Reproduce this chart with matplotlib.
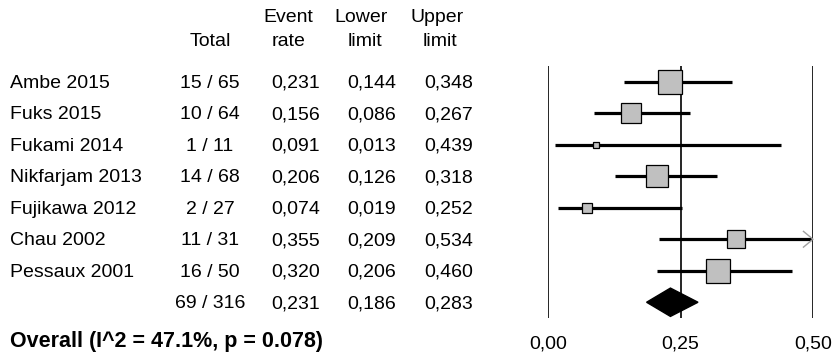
import matplotlib
matplotlib.use("Agg")
import matplotlib.pyplot as plt
from matplotlib.patches import Polygon
import matplotlib.transforms as mtransforms

plt.rcParams['font.family'] = ['Liberation Sans', 'DejaVu Sans']

# ---- data ----
studies = ["Ambe 2015", "Fuks 2015", "Fukami 2014", "Nikfarjam 2013",
           "Fujikawa 2012", "Chau 2002", "Pessaux 2001"]
events = [15, 10, 1, 14, 2, 11, 16]
totals = [65, 64, 11, 68, 27, 31, 50]
rates = [0.231, 0.156, 0.091, 0.206, 0.074, 0.355, 0.320]
lowers = [0.144, 0.086, 0.013, 0.126, 0.019, 0.209, 0.206]
uppers = [0.348, 0.267, 0.439, 0.318, 0.252, 0.534, 0.460]
weights = [19.0, 16.6, 4.0, 18.2, 7.9, 14.3, 19.0]
pooled_events, pooled_total = 69, 316
pooled_rate, pooled_lower, pooled_upper = 0.231, 0.186, 0.283
overall_label = "Overall (I^2 = 47.1%, p = 0.078)"
xticks = [0.0, 0.25, 0.5]
xticklabels = ["0,00", "0,25", "0,50"]

W, H = 834, 359
fig = plt.figure(figsize=(W / 100, H / 100), dpi=100)

# forest axes: x 548..813 px, y 66..318 px
ax_l, ax_r, ax_t, ax_b = 548, 813, 66, 318
ax = fig.add_axes([ax_l / W, 1 - ax_b / H, (ax_r - ax_l) / W, (ax_b - ax_t) / H])
xmin, xmax = 0.0, 0.5
ax.set_xlim(xmin, xmax)
n = len(studies)
ax.set_ylim(n + 0.5, -0.5)
ax.axis('off')

for xv in xticks:
    ax.axvline(xv, color='black', lw=1.2, zorder=1)

fs = 14
fs_bold = 15.5
max_w = max(weights)
for i in range(n):
    lo, hi = lowers[i], uppers[i]
    hi_c = min(hi, xmax)
    ax.plot([lo, hi_c], [i, i], color='black', lw=2.3, solid_capstyle='butt', zorder=2)
    if hi > xmax:
        ax.plot([xmax - 0.018, xmax, xmax - 0.018], [i - 0.25, i, i + 0.25],
                color='#a0a0a0', lw=1.0, zorder=2, clip_on=False)
    size_px = 24 * weights[i] / max_w
    ax.plot([rates[i]], [i], marker='s', markersize=size_px * 0.72,
            markerfacecolor='#c0c0c0', markeredgecolor='black',
            markeredgewidth=0.9, linestyle='none', zorder=3)

yd = n
h = 0.45
diamond = Polygon([(pooled_lower, yd), (pooled_rate, yd - h),
                   (pooled_upper, yd), (pooled_rate, yd + h)],
                  closed=True, facecolor='black', edgecolor='black', zorder=4)
ax.add_patch(diamond)

# tick labels
for xv, lab in zip(xticks, xticklabels):
    ax.text(xv, 1 - (344 - ax_t) / (ax_b - ax_t), lab,
            transform=mtransforms.blended_transform_factory(ax.transData, ax.transAxes),
            ha='center', va='center', fontsize=fs)

# table
tr = mtransforms.blended_transform_factory(fig.transFigure, ax.transData)
col_total, col_rate, col_low, col_up = 210, 296, 372, 449


def fx(px):
    return px / W


def fy(py):
    return 1 - py / H


for i in range(n):
    ax.text(fx(10), i + 0.05, studies[i], transform=tr, ha='left', va='center', fontsize=fs)
    ax.text(fx(col_total), i + 0.05, f"{events[i]} / {totals[i]}", transform=tr,
            ha='center', va='center', fontsize=fs)
    for c, v in zip((col_rate, col_low, col_up), (rates[i], lowers[i], uppers[i])):
        ax.text(fx(c), i + 0.05, f"{v:.3f}".replace('.', ','), transform=tr,
                ha='center', va='center', fontsize=fs)

ax.text(fx(col_total), n + 0.05, f"{pooled_events} / {pooled_total}", transform=tr,
        ha='center', va='center', fontsize=fs)
for c, v in zip((col_rate, col_low, col_up), (pooled_rate, pooled_lower, pooled_upper)):
    ax.text(fx(c), n + 0.05, f"{v:.3f}".replace('.', ','), transform=tr,
            ha='center', va='center', fontsize=fs)

fig.text(fx(10), fy(341), overall_label, ha='left', va='center', fontsize=fs_bold,
         fontweight='bold')

# headers
fig.text(fx(210), fy(42), "Total", ha='center', va='center', fontsize=fs)
fig.text(fx(288), fy(17), "Event", ha='center', va='center', fontsize=fs)
fig.text(fx(289), fy(42), "rate", ha='center', va='center', fontsize=fs)
fig.text(fx(361), fy(17), "Lower", ha='center', va='center', fontsize=fs)
fig.text(fx(365), fy(42), "limit", ha='center', va='center', fontsize=fs)
fig.text(fx(437), fy(17), "Upper", ha='center', va='center', fontsize=fs)
fig.text(fx(440), fy(42), "limit", ha='center', va='center', fontsize=fs)

fig.savefig("out.png", dpi=100)
